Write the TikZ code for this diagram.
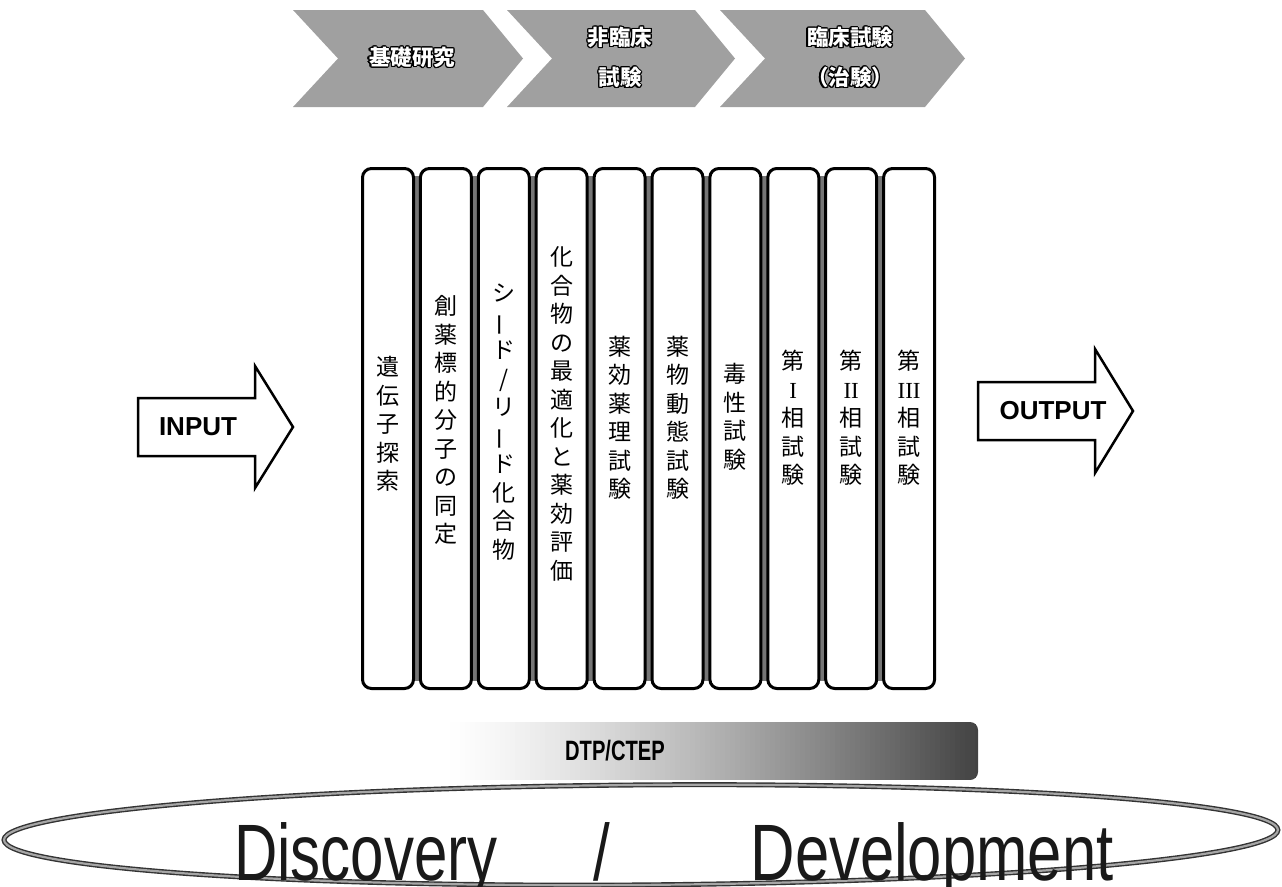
\documentclass[tikz,border=0pt]{standalone}
\usepackage{fontspec}
\setmainfont{Liberation Sans}
\newfontfamily\cjk{Noto Sans CJK JP}
\newfontfamily\romanfont{Liberation Serif}
\usepackage[copies]{contour}
\contourlength{1.1pt}
\definecolor{chevgray}{RGB}{160,160,160}
\definecolor{gapgray}{RGB}{118,118,118}
\newcommand\vchoon{\rotatebox[origin=c]{90}{ー}}
\newcommand\rnum[1]{{\romanfont #1}}
\begin{document}
\begin{tikzpicture}[x=1pt,y=-1pt,
  chev/.style={fill=chevgray},
  chevtext/.style={text=white,font=\cjk\bfseries\fontsize{21.5}{24}\selectfont,inner sep=0},
  stagebox/.style={draw=black,fill=white,line width=3,rounded corners=9,minimum width=51,minimum height=520,inner sep=0},
  vtext/.style={font=\cjk\fontsize{23}{28.5}\selectfont,align=center,inner sep=0},
  bigarrow/.style={draw=black,fill=white,line width=2.5,line join=miter},
  arrowtext/.style={font=\bfseries\fontsize{26}{26}\selectfont,inner sep=0},
  bigtext/.style={font=\fontsize{80}{80}\selectfont,text=black!90,anchor=base,inner sep=0}]
\useasboundingbox (0,0) rectangle (1282,886);

% top chevrons
\fill[chev] (293,10) -- (483,10) -- (523,58.5) -- (483,107) -- (293,107) -- (338,58.5) -- cycle;
\fill[chev] (507,10) -- (695,10) -- (735,58.5) -- (695,107) -- (507,107) -- (552,58.5) -- cycle;
\fill[chev] (720,10) -- (925,10) -- (965,58.5) -- (925,107) -- (720,107) -- (765,58.5) -- cycle;
\node[chevtext] (c1) at (412,58) {\contour{black}{基礎研究}};
\node[chevtext] (c2a) at (620,38) {\contour{black}{非臨床}};
\node[chevtext] (c2b) at (620,78) {\contour{black}{試験}};
\node[chevtext] (c3a) at (850,38) {\contour{black}{臨床試験}};
\node[chevtext] (c3b) at (850,78) {\contour{black}{（治験）}};

% stage boxes
\fill[gapgray] (388,176) rectangle (909,681);
\node[stagebox] (b1) at (388,428.5) {};
\node[stagebox] (b2) at (445.9,428.5) {};
\node[stagebox] (b3) at (503.8,428.5) {};
\node[stagebox] (b4) at (561.7,428.5) {};
\node[stagebox] (b5) at (619.6,428.5) {};
\node[stagebox] (b6) at (677.5,428.5) {};
\node[stagebox] (b7) at (735.4,428.5) {};
\node[stagebox] (b8) at (793.3,428.5) {};
\node[stagebox] (b9) at (851.2,428.5) {};
\node[stagebox] (b10) at (909.1,428.5) {};

\node[vtext] (v1) at (388,424) {遺\\伝\\子\\探\\索};
\node[vtext] (v2) at (445.9,420) {創\\薬\\標\\的\\分\\子\\の\\同\\定};
\node[vtext] (v3) at (503.8,422) {シ\\\vchoon\\ド\\/\\リ\\\vchoon\\ド\\化\\合\\物};
\node[vtext] (v4) at (561.7,414) {化\\合\\物\\の\\最\\適\\化\\と\\薬\\効\\評\\価};
\node[vtext] (v5) at (619.6,418) {薬\\効\\薬\\理\\試\\験};
\node[vtext] (v6) at (677.5,418) {薬\\物\\動\\態\\試\\験};
\node[vtext] (v7) at (735.4,417) {毒\\性\\試\\験};
\node[vtext] (v8) at (793.3,418) {第\\\rnum{I}\\相\\試\\験};
\node[vtext] (v9) at (851.2,418) {第\\\rnum{II}\\相\\試\\験};
\node[vtext] (v10) at (909.1,418) {第\\\rnum{III}\\相\\試\\験};

% input / output arrows
\draw[bigarrow] (138,398) -- (255,398) -- (255,366) -- (293,427) -- (255,488) -- (255,456) -- (138,456) -- cycle;
\node[arrowtext] (in) at (198,427) {INPUT};
\draw[bigarrow] (978,382) -- (1095,382) -- (1095,349) -- (1133,411) -- (1095,473) -- (1095,440) -- (978,440) -- cycle;
\node[arrowtext] (out) at (1053,411) {OUTPUT};

% DTP/CTEP bar (gradient built from strips)
\begin{scope}
\clip[rounded corners=8] (445,722) rectangle (978,780);
\foreach \k in {0,...,106} {
  \pgfmathsetmacro\shadeval{74*((\k/106)^1.3)}
  \fill[black!\shadeval] (445+5*\k,722) rectangle (451+5*\k,780);
}
\end{scope}
\node[font=\bfseries\fontsize{28}{28}\selectfont,inner sep=0] (dtp) at (615,751) {\scalebox{0.72}[1]{DTP/CTEP}};

% discovery / development ring
\coordinate (ec) at (641,835);
\draw[line width=5,black!80,rotate around={0.45:(ec)}] (ec) ellipse [x radius=637,y radius=50];
\draw[line width=2.2,black!35,rotate around={0.45:(ec)}] (ec) ellipse [x radius=637,y radius=50];
\node[bigtext] (disc) at (366,880) {\scalebox{0.75}[1]{Discovery}};
\node[bigtext] (slash) at (602,880) {\scalebox{0.75}[1]{/}};
\node[bigtext] (dev) at (932,880) {\scalebox{0.77}[1]{Development}};
\end{tikzpicture}
\end{document}
